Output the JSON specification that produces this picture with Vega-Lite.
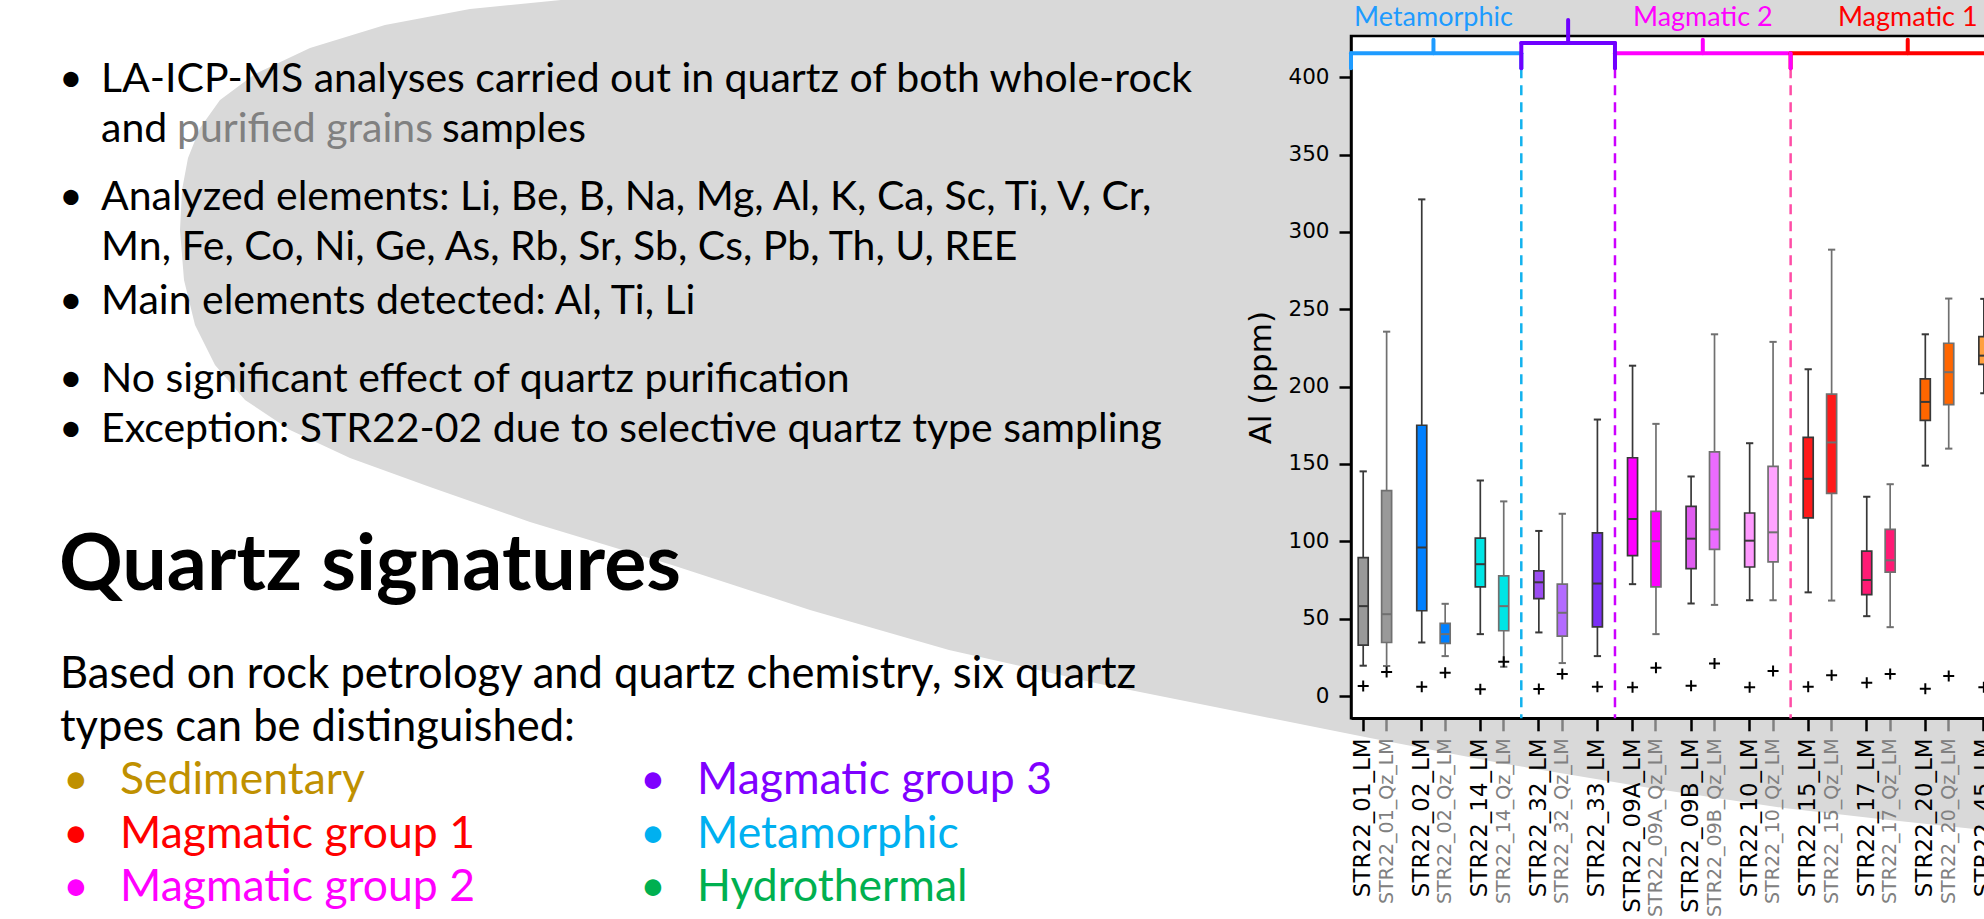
{
  "$schema": "https://vega.github.io/schema/vega-lite/v6.json",
  "background": "white",
  "padding": 0,
  "bounds": "flush",
  "spacing": 51,
  "config": {"view": {"stroke": null}, "axis": {"grid": false}},
  "resolve": {"scale": {"color": "independent", "x": "independent", "y": "independent"}},
  "datasets": {
    "boxes": [
      {"box": "STR22_01_LM", "prep": "LM", "lower": 19.6, "q1": 32.9, "median": 58.1, "q3": 89.4, "upper": 145.2, "flier": 6.5},
      {"box": "STR22_01_Qz_LM", "prep": "Qz", "lower": 19.4, "q1": 34.6, "median": 52.9, "q3": 132.8, "upper": 235.5, "flier": 15.5},
      {"box": "STR22_02_LM", "prep": "LM", "lower": 34.6, "q1": 55.1, "median": 96.0, "q3": 175.0, "upper": 321.0, "flier": 6.0},
      {"box": "STR22_02_Qz_LM", "prep": "Qz", "lower": 25.8, "q1": 34.0, "median": 40.0, "q3": 46.9, "upper": 59.6, "flier": 15.1},
      {"box": "STR22_14_LM", "prep": "LM", "lower": 40.0, "q1": 70.6, "median": 85.2, "q3": 102.0, "upper": 139.3, "flier": 4.3},
      {"box": "STR22_14_Qz_LM", "prep": "Qz", "lower": 18.9, "q1": 42.2, "median": 58.1, "q3": 77.6, "upper": 125.8, "flier": 22.2},
      {"box": "STR22_32_LM", "prep": "LM", "lower": 41.1, "q1": 63.0, "median": 73.5, "q3": 80.9, "upper": 106.7, "flier": 4.5},
      {"box": "STR22_32_Qz_LM", "prep": "Qz", "lower": 21.3, "q1": 38.7, "median": 53.8, "q3": 72.3, "upper": 117.8, "flier": 14.2},
      {"box": "STR22_33_LM", "prep": "LM", "lower": 25.8, "q1": 44.7, "median": 72.7, "q3": 105.4, "upper": 178.7, "flier": 6.0},
      {"box": "STR22_09A_LM", "prep": "LM", "lower": 72.3, "q1": 90.8, "median": 114.4, "q3": 154.0, "upper": 213.5, "flier": 5.6},
      {"box": "STR22_09A_Qz_LM", "prep": "Qz", "lower": 40.0, "q1": 70.5, "median": 100.0, "q3": 119.4, "upper": 175.9, "flier": 18.3},
      {"box": "STR22_09B_LM", "prep": "LM", "lower": 59.8, "q1": 82.4, "median": 101.7, "q3": 122.6, "upper": 141.9, "flier": 6.7},
      {"box": "STR22_09B_Qz_LM", "prep": "Qz", "lower": 58.9, "q1": 94.8, "median": 107.7, "q3": 157.8, "upper": 233.8, "flier": 21.1},
      {"box": "STR22_10_LM", "prep": "LM", "lower": 61.9, "q1": 83.4, "median": 100.4, "q3": 118.3, "upper": 163.4, "flier": 5.6},
      {"box": "STR22_10_Qz_LM", "prep": "Qz", "lower": 61.9, "q1": 86.7, "median": 105.8, "q3": 148.4, "upper": 228.9, "flier": 16.1},
      {"box": "STR22_15_LM", "prep": "LM", "lower": 67.0, "q1": 115.2, "median": 140.4, "q3": 167.2, "upper": 211.2, "flier": 6.0},
      {"box": "STR22_15_Qz_LM", "prep": "Qz", "lower": 61.7, "q1": 131.0, "median": 163.9, "q3": 195.1, "upper": 288.5, "flier": 13.5},
      {"box": "STR22_17_LM", "prep": "LM", "lower": 51.6, "q1": 65.5, "median": 75.0, "q3": 93.6, "upper": 128.8, "flier": 8.6},
      {"box": "STR22_17_Qz_LM", "prep": "Qz", "lower": 44.5, "q1": 80.1, "median": 87.7, "q3": 107.7, "upper": 136.9, "flier": 14.2},
      {"box": "STR22_20_LM", "prep": "LM", "lower": 148.9, "q1": 178.2, "median": 190.1, "q3": 205.0, "upper": 233.8, "flier": 4.7},
      {"box": "STR22_20_Qz_LM", "prep": "Qz", "lower": 159.9, "q1": 188.4, "median": 209.3, "q3": 228.0, "upper": 256.9, "flier": 12.9},
      {"box": "STR22_45_LM", "prep": "LM", "lower": 195.7, "q1": 214.4, "median": 220.0, "q3": 232.3, "upper": 256.7, "flier": 5.6}
    ],
    "seps": [
      {"sep": "sep1", "at": "g13"},
      {"sep": "sep2", "at": "g21"},
      {"sep": "sep3", "at": "g36"}
    ],
    "brackets": [
      {"group": "Metamorphic", "from": "STR22_01_LM", "to": "g13", "mid": "g6"},
      {"group": "Magmatic 3", "from": "g14", "to": "g21", "mid": "g18"},
      {"group": "Magmatic 2", "from": "g22", "to": "g36", "mid": "g29"},
      {"group": "Magmatic 1", "from": "g37", "to": "g56", "mid": "g47"}
    ],
    "backdrop": [
      {"n": 0, "col": 0, "shape": "slide background oval"}
    ],
    "lines": [
      {"n": 1, "kind": "bullet", "text": "LA-ICP-MS analyses carried out in quartz of both whole-rock"},
      {"n": 2, "kind": "cont", "text": "and"},
      {"n": 2, "kind": "grey", "text": "purified grains"},
      {"n": 2, "kind": "cont2", "text": "samples"},
      {"n": 3, "kind": "bullet", "text": ["Analyzed elements: Li, Be, B, Na, Mg, Al, K, Ca, Sc, Ti, V, Cr,", "Mn, Fe, Co, Ni, Ge, As, Rb, Sr, Sb, Cs, Pb, Th, U, REE"]},
      {"n": 5, "kind": "bullet", "text": "Main elements detected: Al, Ti, Li"},
      {"n": 6, "kind": "bullet", "text": "No significant effect of quartz purification"},
      {"n": 7, "kind": "bullet", "text": "Exception: STR22-02 due to selective quartz type sampling"},
      {"n": 8, "kind": "heading", "text": "Quartz signatures"},
      {"n": 9, "kind": "body", "text": ["Based on rock petrology and quartz chemistry, six quartz", "types can be distinguished:"]}
    ],
    "items": [
      {"n": 11, "col": 0, "qtype": "Sedimentary"},
      {"n": 12, "col": 0, "qtype": "Magmatic group 1"},
      {"n": 13, "col": 0, "qtype": "Magmatic group 2"},
      {"n": 11, "col": 1, "qtype": "Magmatic group 3"},
      {"n": 12, "col": 1, "qtype": "Metamorphic"},
      {"n": 13, "col": 1, "qtype": "Hydrothermal"}
    ]
  },
  "hconcat": [
    {
      "width": 1300,
      "height": 919,
      "encoding": {
        "y": {"field": "n", "type": "quantitative", "axis": null, "title": null,
              "scale": {"domain": [0, 1, 2, 3, 4, 5, 6, 7, 8, 9, 10, 11, 12, 13],
                        "range": [0, 92, 141.5, 210, 259.5, 314, 392, 441.5, 590, 688, 740.5, 794, 847.5, 901],
                        "zero": false, "nice": false}}
      },
      "layer": [
        {
          "data": {"name": "backdrop"},
          "mark": {"type": "point", "filled": true, "fill": "#D9D9D9", "strokeWidth": 0, "opacity": 1, "size": 4000000,
                   "shape": "M0.561,0L1.984,0L1.984,0.83L1.88,0.819L1.784,0.808L1.65,0.788L1.5,0.763L1.37,0.738L1.24,0.712L1.1,0.684L0.949,0.65L0.81,0.61L0.672,0.565L0.53,0.522L0.43,0.487L0.35,0.458L0.29,0.43L0.245,0.4L0.215,0.365L0.195,0.325L0.184,0.28L0.18,0.23L0.182,0.19L0.188,0.158L0.2,0.128L0.22,0.1L0.255,0.074L0.31,0.048L0.385,0.025L0.47,0.009Z"},
          "encoding": {
            "x": {"field": "col", "type": "quantitative", "axis": null, "title": null,
                  "scale": {"domain": [0, 1], "range": [0, 577], "zero": false, "nice": false}}
          }
        },
        {
          "data": {"name": "lines"},
          "transform": [{"filter": "datum.kind === 'bullet'"}],
          "mark": {"type": "text", "text": "•", "font": "Lato", "fontSize": 41, "align": "left", "baseline": "alphabetic", "fill": "#000000", "dx": 59},
          "encoding": {"x": {"datum": 0, "type": "quantitative", "axis": null}}
        },
        {
          "data": {"name": "lines"},
          "transform": [{"filter": "datum.kind === 'bullet' || datum.kind === 'cont'"}],
          "mark": {"type": "text", "font": "Lato", "fontSize": 41, "lineHeight": 49.5, "align": "left", "baseline": "alphabetic", "fill": "#000000", "dx": 101},
          "encoding": {"x": {"datum": 0, "type": "quantitative", "axis": null}, "text": {"field": "text"}}
        },
        {
          "data": {"name": "lines"},
          "transform": [{"filter": "datum.kind === 'grey'"}],
          "mark": {"type": "text", "font": "Lato", "fontSize": 41, "align": "left", "baseline": "alphabetic", "fill": "#808080", "dx": 177},
          "encoding": {"x": {"datum": 0, "type": "quantitative", "axis": null}, "text": {"field": "text"}}
        },
        {
          "data": {"name": "lines"},
          "transform": [{"filter": "datum.kind === 'cont2'"}],
          "mark": {"type": "text", "font": "Lato", "fontSize": 41, "align": "left", "baseline": "alphabetic", "fill": "#000000", "dx": 442},
          "encoding": {"x": {"datum": 0, "type": "quantitative", "axis": null}, "text": {"field": "text"}}
        },
        {
          "data": {"name": "lines"},
          "transform": [{"filter": "datum.kind === 'heading'"}],
          "mark": {"type": "text", "font": "Lato", "fontSize": 79, "fontWeight": "bold", "align": "left", "baseline": "alphabetic", "fill": "#000000", "dx": 59},
          "encoding": {"x": {"datum": 0, "type": "quantitative", "axis": null}, "text": {"field": "text"}}
        },
        {
          "data": {"name": "lines"},
          "transform": [{"filter": "datum.kind === 'body'"}],
          "mark": {"type": "text", "font": "Lato", "fontSize": 43.5, "lineHeight": 52.5, "align": "left", "baseline": "alphabetic", "fill": "#000000", "dx": 60},
          "encoding": {"x": {"datum": 0, "type": "quantitative", "axis": null}, "text": {"field": "text"}}
        },
        {
          "data": {"name": "items"},
          "mark": {"type": "text", "text": "•", "font": "Lato", "fontSize": 44.5, "align": "left", "baseline": "alphabetic", "dx": 63},
          "encoding": {
            "x": {"field": "col", "type": "quantitative", "axis": null, "title": null},
            "color": {"field": "qtype", "type": "nominal", "legend": null,
                      "scale": {"domain": ["Sedimentary", "Magmatic group 1", "Magmatic group 2", "Magmatic group 3", "Metamorphic", "Hydrothermal"],
                                "range": ["#BF9000", "#FF0000", "#FF00FF", "#7F00FF", "#00B0F0", "#00B050"]}}
          }
        },
        {
          "data": {"name": "items"},
          "mark": {"type": "text", "font": "Lato", "fontSize": 44.5, "align": "left", "baseline": "alphabetic", "dx": 120},
          "encoding": {
            "x": {"field": "col", "type": "quantitative", "axis": null, "title": null},
            "text": {"field": "qtype"},
            "color": {"field": "qtype", "type": "nominal", "legend": null}
          }
        }
      ]
    },
    {
      "bounds": "flush",
      "spacing": 0,
      "resolve": {"scale": {"color": "independent", "x": "independent", "y": "independent"}},
      "vconcat": [
        {
          "width": 691.9,
          "height": 36,
          "data": {"name": "brackets"},
          "layer": [
            {
              "transform": [{"filter": "datum.group === 'Metamorphic' || datum.group === 'Magmatic 2'"}],
              "mark": {"type": "text", "font": "Lato", "fontSize": 27, "align": "center", "baseline": "middle"},
              "encoding": {
                "x": {"field": "mid", "type": "nominal", "bandPosition": 0.5, "axis": null, "title": null,
                      "scale": {"type": "band", "paddingInner": 0, "paddingOuter": 0.542,
                                "domain": ["STR22_01_LM","g1","STR22_01_Qz_LM","g3","g4","STR22_02_LM","g6","STR22_02_Qz_LM","g8","g9","STR22_14_LM","g11","STR22_14_Qz_LM","g13","g14","STR22_32_LM","g16","STR22_32_Qz_LM","g18","g19","STR22_33_LM","g21","g22","STR22_09A_LM","g24","STR22_09A_Qz_LM","g26","g27","STR22_09B_LM","g29","STR22_09B_Qz_LM","g31","g32","STR22_10_LM","g34","STR22_10_Qz_LM","g36","g37","STR22_15_LM","g39","STR22_15_Qz_LM","g41","g42","STR22_17_LM","g44","STR22_17_Qz_LM","g46","g47","STR22_20_LM","g49","STR22_20_Qz_LM","g51","g52","STR22_45_LM","g54","STR22_45_Qz_LM","g56","g57"]}},
                "text": {"field": "group"},
                "color": {"field": "group", "type": "nominal", "legend": null,
                          "scale": {"domain": ["Metamorphic", "Magmatic 3", "Magmatic 2", "Magmatic 1"],
                                    "range": ["#1E9BFF", "#6F00FF", "#FF00FF", "#FF0000"]}}
              }
            },
            {
              "transform": [{"filter": "datum.group === 'Magmatic 1'"}],
              "mark": {"type": "text", "font": "Lato", "fontSize": 27, "align": "center", "baseline": "middle"},
              "encoding": {
                "x": {"field": "mid", "type": "nominal", "bandPosition": 0, "axis": null, "title": null},
                "text": {"field": "group"},
                "color": {"field": "group", "type": "nominal", "legend": null}
              }
            }
          ]
        },
        {
          "width": 691.9,
          "height": 682.3,
          "view": {"stroke": "#000000", "strokeWidth": 2.5, "fill": "#FFFFFF"},
          "layer": [
            {
              "data": {"name": "boxes"},
              "mark": {"type": "rule", "strokeWidth": 1.7},
              "encoding": {
                "x": {"field": "box", "type": "nominal", "title": null,
                      "scale": {"type": "band", "paddingInner": 0, "paddingOuter": 0.542,
                                "domain": ["STR22_01_LM","g1","STR22_01_Qz_LM","g3","g4","STR22_02_LM","g6","STR22_02_Qz_LM","g8","g9","STR22_14_LM","g11","STR22_14_Qz_LM","g13","g14","STR22_32_LM","g16","STR22_32_Qz_LM","g18","g19","STR22_33_LM","g21","g22","STR22_09A_LM","g24","STR22_09A_Qz_LM","g26","g27","STR22_09B_LM","g29","STR22_09B_Qz_LM","g31","g32","STR22_10_LM","g34","STR22_10_Qz_LM","g36","g37","STR22_15_LM","g39","STR22_15_Qz_LM","g41","g42","STR22_17_LM","g44","STR22_17_Qz_LM","g46","g47","STR22_20_LM","g49","STR22_20_Qz_LM","g51","g52","STR22_45_LM","g54","STR22_45_Qz_LM","g56","g57"]},
                      "axis": {
                        "values": ["STR22_01_LM","STR22_01_Qz_LM","STR22_02_LM","STR22_02_Qz_LM","STR22_14_LM","STR22_14_Qz_LM","STR22_32_LM","STR22_32_Qz_LM","STR22_33_LM","STR22_09A_LM","STR22_09A_Qz_LM","STR22_09B_LM","STR22_09B_Qz_LM","STR22_10_LM","STR22_10_Qz_LM","STR22_15_LM","STR22_15_Qz_LM","STR22_17_LM","STR22_17_Qz_LM","STR22_20_LM","STR22_20_Qz_LM","STR22_45_LM"],
                        "labelAngle": -90, "labelAlign": "right", "labelBaseline": "middle",
                        "labelFont": "DejaVu Sans", "labelPadding": 7, "labelLimit": 0,
                        "labelFontSize": {"condition": {"test": "indexof(datum.value, '_Qz') >= 0", "value": 19}, "value": 23},
                        "labelColor": {"condition": {"test": "indexof(datum.value, '_Qz') >= 0", "value": "#808080"}, "value": "#000000"},
                        "tickColor": {"condition": {"test": "indexof(datum.value, '_Qz') >= 0", "value": "#808080"}, "value": "#000000"},
                        "tickSize": 12.5, "tickWidth": 2.5,
                        "domainColor": "#000000", "domainWidth": 2.5,
                        "labelOverlap": false, "labelBound": false, "labelFlush": false,
                        "grid": false, "title": null
                      }},
                "y": {"field": "lower", "type": "quantitative", "title": "Al (ppm)",
                      "scale": {"domain": [-14.4, 426.6], "nice": false, "zero": false},
                      "axis": {
                        "values": [0, 50, 100, 150, 200, 250, 300, 350, 400],
                        "labelFont": "DejaVu Sans", "labelFontSize": 21.5, "labelColor": "#000000", "labelPadding": 10,
                        "tickSize": 12, "tickWidth": 2.5, "tickColor": "#000000",
                        "domainColor": "#000000", "domainWidth": 2.5,
                        "title": "Al (ppm)", "titleFont": "DejaVu Sans", "titleFontSize": 31, "titleFontWeight": "normal",
                        "titleColor": "#000000", "titlePadding": 10, "grid": false
                      }},
                "y2": {"field": "upper"},
                "stroke": {"field": "prep", "type": "nominal", "legend": null,
                           "scale": {"domain": ["LM", "Qz"], "range": ["#383838", "#707070"]}}
              }
            },
            {
              "data": {"name": "seps"},
              "mark": {"type": "rule", "strokeWidth": 2.5, "strokeDash": [10, 7]},
              "encoding": {
                "x": {"field": "at", "type": "nominal", "bandPosition": 1, "title": null},
                "y": {"datum": 405.8, "type": "quantitative"},
                "y2": {"datum": -14.4},
                "color": {"field": "sep", "type": "nominal", "legend": null,
                          "scale": {"domain": ["Metamorphic", "Magmatic 3", "Magmatic 2", "Magmatic 1", "sep1", "sep2", "sep3"],
                                    "range": ["#1E9BFF", "#6F00FF", "#FF00FF", "#FF0000", "#12B2EE", "#CC00FF", "#FF4DA6"]}}
              }
            },
            {
              "data": {"name": "boxes"},
              "mark": {"type": "rule", "strokeWidth": 2},
              "encoding": {
                "x": {"field": "box", "type": "nominal", "bandPosition": 0.19, "title": null},
                "x2": {"field": "box", "bandPosition": 0.81},
                "y": {"field": "lower", "type": "quantitative", "title": "Al (ppm)"},
                "stroke": {"field": "prep", "type": "nominal", "legend": null}
              }
            },
            {
              "data": {"name": "boxes"},
              "mark": {"type": "rule", "strokeWidth": 2},
              "encoding": {
                "x": {"field": "box", "type": "nominal", "bandPosition": 0.19, "title": null},
                "x2": {"field": "box", "bandPosition": 0.81},
                "y": {"field": "upper", "type": "quantitative", "title": "Al (ppm)"},
                "stroke": {"field": "prep", "type": "nominal", "legend": null}
              }
            },
            {
              "data": {"name": "boxes"},
              "mark": {"type": "bar", "size": 10, "strokeWidth": 1.7},
              "encoding": {
                "x": {"field": "box", "type": "nominal", "title": null},
                "y": {"field": "q1", "type": "quantitative", "title": "Al (ppm)"},
                "y2": {"field": "q3"},
                "fill": {"field": "box", "type": "nominal", "legend": null,
                         "scale": {"domain": ["STR22_01_LM","STR22_01_Qz_LM","STR22_02_LM","STR22_02_Qz_LM","STR22_14_LM","STR22_14_Qz_LM","STR22_32_LM","STR22_32_Qz_LM","STR22_33_LM","STR22_09A_LM","STR22_09A_Qz_LM","STR22_09B_LM","STR22_09B_Qz_LM","STR22_10_LM","STR22_10_Qz_LM","STR22_15_LM","STR22_15_Qz_LM","STR22_17_LM","STR22_17_Qz_LM","STR22_20_LM","STR22_20_Qz_LM","STR22_45_LM"],
                                   "range": ["#999999","#999999","#0080FF","#0080FF","#00E5E5","#00E5E5","#9B4DF2","#B36BFF","#7B2FF7","#FF00FF","#FF00FF","#E05CF0","#EB6BFF","#FF99FF","#FFA3FF","#FF1A1A","#FF1A1A","#FF1A75","#FF1A75","#FF6600","#FF6600","#FFA040"]}},
                "stroke": {"field": "prep", "type": "nominal", "legend": null}
              }
            },
            {
              "data": {"name": "boxes"},
              "mark": {"type": "rule", "strokeWidth": 2},
              "encoding": {
                "x": {"field": "box", "type": "nominal", "bandPosition": 0.07, "title": null},
                "x2": {"field": "box", "bandPosition": 0.93},
                "y": {"field": "median", "type": "quantitative", "title": "Al (ppm)"},
                "stroke": {"field": "prep", "type": "nominal", "legend": null}
              }
            },
            {
              "data": {"name": "boxes"},
              "mark": {"type": "point", "shape": "M-1,0H1M0,-1V1", "filled": false, "stroke": "#000000", "strokeWidth": 2, "size": 121, "opacity": 1},
              "encoding": {
                "x": {"field": "box", "type": "nominal", "title": null},
                "y": {"field": "flier", "type": "quantitative", "title": "Al (ppm)"}
              }
            },
            {
              "data": {"name": "brackets"},
              "transform": [{"filter": "datum.group === 'Magmatic 2' || datum.group === 'Magmatic 1'"}],
              "mark": {"type": "rule", "strokeWidth": 4, "strokeCap": "round"},
              "encoding": {
                "x": {"field": "from", "type": "nominal", "bandPosition": 0, "title": null},
                "x2": {"field": "to", "bandPosition": 1},
                "y": {"datum": 415.5, "type": "quantitative"},
                "color": {"field": "group", "type": "nominal", "legend": null}
              }
            },
            {
              "data": {"name": "brackets"},
              "transform": [{"filter": "datum.group === 'Metamorphic'"}],
              "mark": {"type": "rule", "strokeWidth": 4, "strokeCap": "round"},
              "encoding": {
                "x": {"field": "from", "type": "nominal", "bandPosition": -0.542, "title": null},
                "x2": {"field": "to", "bandPosition": 1},
                "y": {"datum": 415.5, "type": "quantitative"},
                "color": {"field": "group", "type": "nominal", "legend": null}
              }
            },
            {
              "data": {"name": "brackets"},
              "transform": [{"filter": "datum.group === 'Magmatic 3'"}],
              "mark": {"type": "rule", "strokeWidth": 4, "strokeCap": "round"},
              "encoding": {
                "x": {"field": "from", "type": "nominal", "bandPosition": 0, "title": null},
                "x2": {"field": "to", "bandPosition": 1},
                "y": {"datum": 422, "type": "quantitative"},
                "color": {"field": "group", "type": "nominal", "legend": null}
              }
            },
            {
              "data": {"name": "brackets"},
              "transform": [{"filter": "datum.group === 'Magmatic 2' || datum.group === 'Magmatic 1'"}],
              "mark": {"type": "rule", "strokeWidth": 4, "strokeCap": "round"},
              "encoding": {
                "x": {"field": "from", "type": "nominal", "bandPosition": 0, "title": null},
                "y": {"datum": 405.8, "type": "quantitative"},
                "y2": {"datum": 415.5},
                "color": {"field": "group", "type": "nominal", "legend": null}
              }
            },
            {
              "data": {"name": "brackets"},
              "transform": [{"filter": "datum.group === 'Metamorphic'"}],
              "mark": {"type": "rule", "strokeWidth": 4, "strokeCap": "round"},
              "encoding": {
                "x": {"field": "from", "type": "nominal", "bandPosition": -0.542, "title": null},
                "y": {"datum": 405.8, "type": "quantitative"},
                "y2": {"datum": 415.5},
                "color": {"field": "group", "type": "nominal", "legend": null}
              }
            },
            {
              "data": {"name": "brackets"},
              "transform": [{"filter": "datum.group !== 'Magmatic 3'"}],
              "mark": {"type": "rule", "strokeWidth": 4, "strokeCap": "round"},
              "encoding": {
                "x": {"field": "to", "type": "nominal", "bandPosition": 1, "title": null},
                "y": {"datum": 405.8, "type": "quantitative"},
                "y2": {"datum": 415.5},
                "color": {"field": "group", "type": "nominal", "legend": null}
              }
            },
            {
              "data": {"name": "brackets"},
              "transform": [{"filter": "datum.group === 'Magmatic 3'"}],
              "mark": {"type": "rule", "strokeWidth": 4, "strokeCap": "round"},
              "encoding": {
                "x": {"field": "from", "type": "nominal", "bandPosition": 0, "title": null},
                "y": {"datum": 405.8, "type": "quantitative"},
                "y2": {"datum": 422},
                "color": {"field": "group", "type": "nominal", "legend": null}
              }
            },
            {
              "data": {"name": "brackets"},
              "transform": [{"filter": "datum.group === 'Magmatic 3'"}],
              "mark": {"type": "rule", "strokeWidth": 4, "strokeCap": "round"},
              "encoding": {
                "x": {"field": "to", "type": "nominal", "bandPosition": 1, "title": null},
                "y": {"datum": 405.8, "type": "quantitative"},
                "y2": {"datum": 422},
                "color": {"field": "group", "type": "nominal", "legend": null}
              }
            },
            {
              "data": {"name": "brackets"},
              "transform": [{"filter": "datum.group === 'Metamorphic' || datum.group === 'Magmatic 2'"}],
              "mark": {"type": "rule", "strokeWidth": 4, "strokeCap": "round"},
              "encoding": {
                "x": {"field": "mid", "type": "nominal", "bandPosition": 0.5, "title": null},
                "y": {"datum": 415.5, "type": "quantitative"},
                "y2": {"datum": 424.1},
                "color": {"field": "group", "type": "nominal", "legend": null}
              }
            },
            {
              "data": {"name": "brackets"},
              "transform": [{"filter": "datum.group === 'Magmatic 1'"}],
              "mark": {"type": "rule", "strokeWidth": 4, "strokeCap": "round"},
              "encoding": {
                "x": {"field": "mid", "type": "nominal", "bandPosition": 0, "title": null},
                "y": {"datum": 415.5, "type": "quantitative"},
                "y2": {"datum": 424.1},
                "color": {"field": "group", "type": "nominal", "legend": null}
              }
            },
            {
              "data": {"name": "brackets"},
              "transform": [{"filter": "datum.group === 'Magmatic 3'"}],
              "mark": {"type": "rule", "strokeWidth": 4, "strokeCap": "round"},
              "encoding": {
                "x": {"field": "mid", "type": "nominal", "bandPosition": 0, "title": null},
                "y": {"datum": 422, "type": "quantitative"},
                "y2": {"datum": 437},
                "color": {"field": "group", "type": "nominal", "legend": null}
              }
            }
          ]
        }
      ]
    }
  ]
}
